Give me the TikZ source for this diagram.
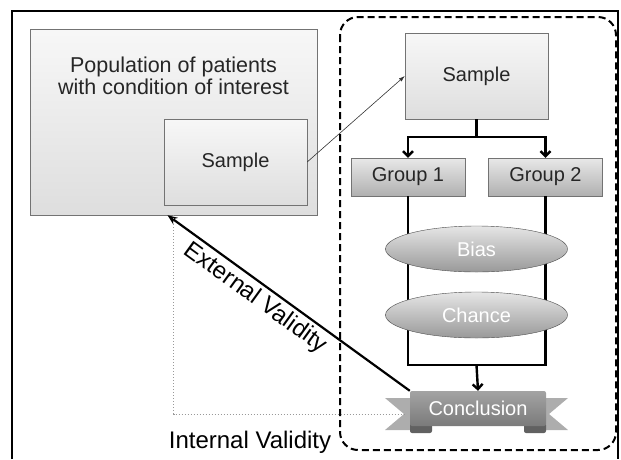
\documentclass[tikz,border=0pt]{standalone}
\usepackage{fontspec}
\setmainfont{Liberation Sans}
\usetikzlibrary{arrows.meta,shapes.geometric}

\begin{document}
\begin{tikzpicture}[
  x=1pt, y=-1pt,
  font=\fontsize{20}{22}\selectfont,
  box/.style={draw=black!55, top color=black!3, bottom color=black!13, text=black!85, minimum width=143pt, minimum height=86pt, inner sep=0pt},
  group/.style={box, top color=black!9, bottom color=black!31, minimum width=114pt, minimum height=38pt},
  hazard/.style={ellipse, draw=black!70, top color=black!10, bottom color=black!40, text=white, minimum width=182pt, minimum height=46pt, inner sep=0pt},
  banner/.style={top color=black!36, bottom color=black!52, text=white, minimum width=136pt, minimum height=35pt, inner sep=0pt, rounded corners=2pt},
  tail/.style={fill=black!32},
  foot/.style={fill=black!62, rounded corners=2pt},
  flow/.style={line width=2.4pt},
  arr/.style={-{Straight Barb[length=5pt,width=10pt]}},
  bigtext/.style={font=\fontsize{24}{26}\selectfont}
]
\useasboundingbox (0,0) rectangle (621,459);
% frames
\draw[line width=2.5pt] (12,459) -- (12,11) -- (618,11) -- (618,459);
\draw[line width=2pt, dash pattern=on 7pt off 4pt, rounded corners=18pt] (340,17) rectangle (616,450);

% population and samples
\node[box, minimum width=287pt, minimum height=186pt] (pop) at (173.5,122) {};
\node[align=center, text=black!85, font=\fontsize{21.5}{22}\selectfont] (poptext) at (173.5,76) {Population of patients\\with condition of interest};
\node[box] (samplein) at (235.5,162) {Sample};
\node[box] (sampleout) at (476.5,76) {Sample};
\node[group] (grpA) at (408,177) {Group 1};
\node[group] (grpB) at (545.5,177) {Group 2};

% conclusion ribbon
\fill[tail] (385,398) -- (418,398) -- (418,430) -- (385,430) -- (404,414) -- cycle;
\fill[tail] (568,398) -- (538,398) -- (538,430) -- (568,430) -- (549,414) -- cycle;
\fill[foot] (410,423) rectangle (432,433);
\fill[foot] (524,423) rectangle (546,433);
\node[banner] (concl) at (478,408.5) {Conclusion};

\coordinate (split) at (476.5,137);
\coordinate (merge) at (476.5,365);
\coordinate (notch) at (404,414);

\draw[flow] (sampleout.south) -- (split);
\draw[flow,arr] (split) -| (grpA.north);
\draw[flow,arr] (split) -| (grpB.north);
\draw[flow] (grpA.south) |- (merge) -| (grpB.south);
\draw[flow,arr] (merge) -- (concl.north);

\node[hazard] (bias) at (476.5,249) {Bias};
\node[hazard] (chance) at (476.5,315) {Chance};

% validity
\draw[black!80, line width=0.6pt, -{Latex[length=6pt,width=4pt]}] (samplein.east) -- (sampleout.west);
\draw[line width=2.2pt, -{Stealth[length=10pt,width=8pt]}] (concl.north west) -- ([xshift=-6pt]pop.south)
  node[sloped, below, pos=0.6, bigtext] (extlabel) {External Validity};
\draw[black!40, dotted, line width=1pt] (pop.south) |- (notch);
\node[bigtext] (intlabel) at (250,442) {Internal Validity};
\end{tikzpicture}
\end{document}
